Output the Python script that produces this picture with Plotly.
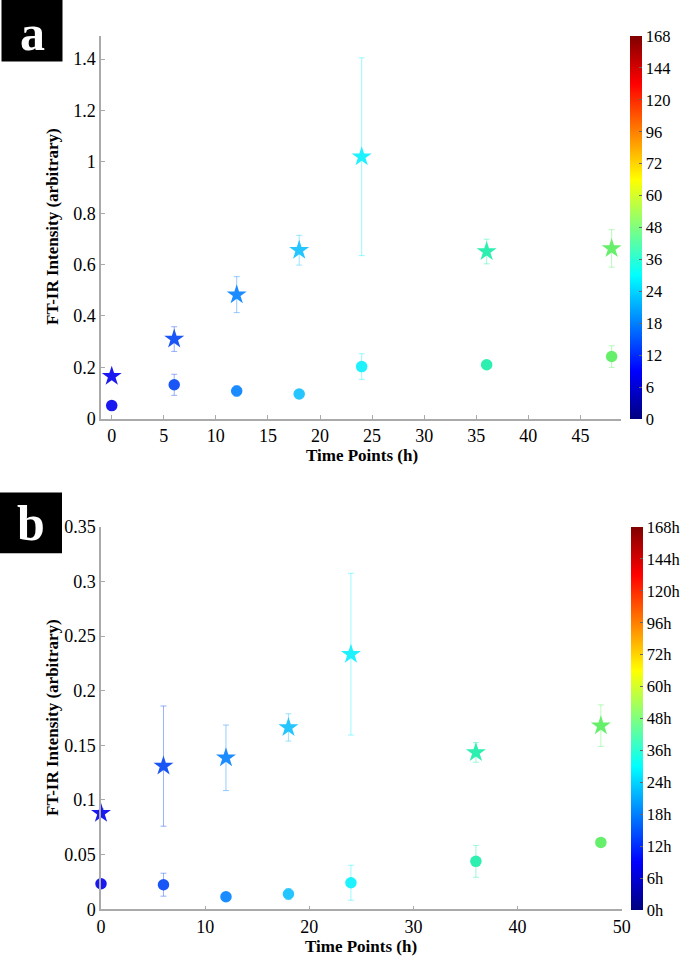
import plotly.graph_objects as go

# ---------------- data ----------------
times = [0, 6, 12, 18, 24, 36, 48]

a_star = [0.165, 0.31, 0.483, 0.656, 1.02, 0.651, 0.663]
a_star_err = [0.012, 0.048, 0.07, 0.058, 0.385, 0.048, 0.073]
a_circ = [0.051, 0.132, 0.108, 0.096, 0.203, 0.21, 0.242]
a_circ_err = [0.01, 0.041, 0.02, 0.012, 0.05, 0.012, 0.042]

b_star = [0.0878, 0.131, 0.1386, 0.1664, 0.2334, 0.1435, 0.168]
b_star_err = [0.004, 0.055, 0.03, 0.0125, 0.074, 0.009, 0.019]
b_circ = [0.0234, 0.0225, 0.0115, 0.014, 0.0243, 0.0439, 0.0612]
b_circ_err = [0.003, 0.0105, 0.003, 0.005, 0.016, 0.0146, 0.003]

cbar_a_labels = ["0", "6", "12", "18", "24", "36", "48", "60", "72", "96", "120", "144", "168"]
cbar_b_labels = ["0h", "6h", "12h", "18h", "24h", "36h", "48h", "60h", "72h", "96h", "120h", "144h", "168h"]

# ---------------- style ----------------
point_colors = ["#1a1af0", "#1a55f5", "#1a8cff", "#25c5ff", "#1ef2ff", "#2cefb0", "#66ef6a"]
jet = [[0, "#000080"], [0.125, "#0000ff"], [0.375, "#00ffff"],
       [0.625, "#ffff00"], [0.875, "#ff0000"], [1, "#800000"]]
W, H = 680, 958
SERIF = "Liberation Serif, Times New Roman, serif"
AXC = "#aaaaaa"


def rgba(hexc, a):
    h = hexc.lstrip("#")
    r, g, b = int(h[0:2], 16), int(h[2:4], 16), int(h[4:6], 16)
    return f"rgba({r},{g},{b},{a})"


fig = go.Figure()


def add_series(xa, ya, vals, errs, symbol, size):
    for t, v, e, c in zip(times, vals, errs, point_colors):
        fig.add_trace(go.Scatter(
            x=[t], y=[v], mode="markers", xaxis=xa, yaxis=ya, cliponaxis=False,
            marker=dict(symbol=symbol, size=size, color=c, line=dict(width=0)),
            error_y=dict(type="data", array=[e], visible=True, color=rgba(c, 0.45),
                         thickness=1, width=3),
            showlegend=False, hoverinfo="skip"))


add_series("x", "y", a_star, a_star_err, "star", 15)
add_series("x", "y", a_circ, a_circ_err, "circle", 11.5)
add_series("x2", "y2", b_star, b_star_err, "star", 15)
add_series("x2", "y2", b_circ, b_circ_err, "circle", 11.5)


def add_cbar(xa, ya, labels, top_px, bot_px, left_px):
    fig.add_trace(go.Scatter(
        x=[None], y=[None], mode="markers", xaxis=xa, yaxis=ya,
        marker=dict(color=[0], cmin=0, cmax=12, colorscale=jet, showscale=True,
                    colorbar=dict(
                        x=left_px / W, xanchor="left", xpad=0, ypad=0,
                        y=1 - bot_px / H, yanchor="bottom",
                        len=bot_px - top_px, lenmode="pixels",
                        thickness=12, thicknessmode="pixels",
                        outlinewidth=0,
                        tickvals=list(range(13)), ticktext=labels,
                        ticks="inside", ticklen=3, tickcolor="#666666",
                        tickfont=dict(family=SERIF, size=16.5, color="black"))),
        showlegend=False, hoverinfo="skip"))


add_cbar("x", "y", cbar_a_labels, 36, 419, 630)
add_cbar("x2", "y2", cbar_b_labels, 527, 910, 630.5)

axis_common = dict(showgrid=False, zeroline=False, showline=True, linecolor=AXC,
                   linewidth=1.5, ticks="inside", ticklen=4, tickcolor=AXC,
                   tickfont=dict(family=SERIF, size=18, color="black"), mirror=False,
                   automargin=False)

fig.update_layout(
    width=W, height=H, margin=dict(l=0, r=0, t=0, b=0, autoexpand=False),
    paper_bgcolor="white", plot_bgcolor="white", showlegend=False,
    xaxis=dict(domain=[101 / W, 621 / W], range=[-1.03, 48.9], anchor="y",
               tickvals=[0, 5, 10, 15, 20, 25, 30, 35, 40, 45], **axis_common),
    yaxis=dict(domain=[1 - 418.7 / H, 1 - 36 / H], range=[0, 1.49], anchor="x",
               tickvals=[0, 0.2, 0.4, 0.6, 0.8, 1, 1.2, 1.4],
               ticktext=["0", "0.2", "0.4", "0.6", "0.8", "1", "1.2", "1.4"], **axis_common),
    xaxis2=dict(domain=[101 / W, 621.7 / W], range=[0, 50], anchor="y2",
                tickvals=[0, 10, 20, 30, 40, 50], **axis_common),
    yaxis2=dict(domain=[1 - 909.3 / H, 1 - 526.7 / H], range=[0, 0.35], anchor="x2",
                tickvals=[0, 0.05, 0.1, 0.15, 0.2, 0.25, 0.3, 0.35],
                ticktext=["0", "0.05", "0.1", "0.15", "0.2", "0.25", "0.3", "0.35"], **axis_common),
)

# panel label boxes
for (x0, y0, x1, y1, letter, yc) in [(1.5, 0, 62.5, 61.5, "a", 33.5),
                                     (0, 492.5, 62, 553.3, "b", 523)]:
    fig.add_shape(type="rect", xref="paper", yref="paper",
                  x0=x0 / W, x1=x1 / W, y0=1 - y1 / H, y1=1 - y0 / H,
                  fillcolor="black", line=dict(width=0), layer="above")
    fig.add_annotation(xref="paper", yref="paper", x=(x0 + x1) / 2 / W,
                       y=1 - yc / H, text=f"<b>{letter}</b>", showarrow=False,
                       font=dict(family=SERIF, size=50, color="white"),
                       xanchor="center", yanchor="middle", borderpad=0)

# axis titles
for yc, xt_y, xt_x in [(227, 456, 362), (718, 946, 361)]:
    fig.add_annotation(xref="paper", yref="paper", x=52 / W, y=1 - yc / H,
                       text="<b>FT-IR Intensity (arbitrary)</b>", textangle=-90,
                       showarrow=False, xanchor="center", yanchor="middle",
                       font=dict(family=SERIF, size=17, color="black"))
    fig.add_annotation(xref="paper", yref="paper", x=xt_x / W, y=1 - xt_y / H,
                       text="<b>Time Points (h)</b>", showarrow=False,
                       xanchor="center", yanchor="middle",
                       font=dict(family=SERIF, size=17, color="black"))

fig.write_html(
    "out.html",
    config={"displayModeBar": False},
    post_script=("document.body.style.margin='0';"
                 "document.body.style.overflow='hidden';"
                 "document.documentElement.style.overflow='hidden';"),
)
